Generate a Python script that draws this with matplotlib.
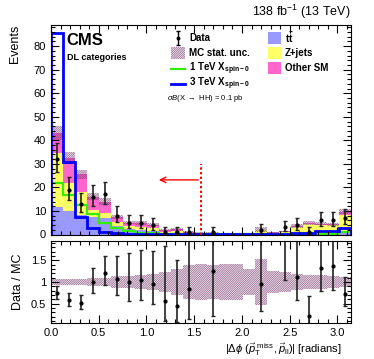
import numpy as np
import matplotlib
matplotlib.use('Agg')
import matplotlib.pyplot as plt
from matplotlib.patches import Rectangle
from matplotlib.lines import Line2D
from matplotlib.ticker import MultipleLocator

plt.rcParams.update({'font.family': ['Liberation Sans', 'DejaVu Sans'],
                     'mathtext.fontset': 'custom',
                     'mathtext.rm': 'Liberation Sans',
                     'mathtext.it': 'Liberation Sans:italic',
                     'mathtext.bf': 'Liberation Sans:bold',
                     'hatch.linewidth': 0.4})

#%%
# 25 bins in |dphi| from 0 to pi
n_bins = 25
edges = np.linspace(0, np.pi, n_bins + 1)
centers = 0.5 * (edges[1:] + edges[:-1])

# backgrounds (stacked: ttbar, Z+jets, other SM)
ttbar = [11.5, 10.0, 8.3, 7.6, 6.9, 3.6, 2.5, 2.0, 1.6, 0.6, 0.8, 0.4, 0.3,
         0.3, 0.2, 0.2, 0.2, 0.3, 0.2, 0.2, 0.3, 0.3, 0.3, 0.3, 0.8]
zjets = [23.3, 12.0, 9.9, 2.8, 2.4, 1.9, 1.0, 1.2, 1.3, 0.6, 0.8, 0.4, 0.3,
         0.3, 0.2, 0.2, 0.2, 1.5, 0.6, 0.9, 2.8, 4.0, 3.7, 3.6, 7.6]
other = [8.2, 10.5, 7.3, 5.6, 4.7, 2.0, 1.5, 1.6, 1.3, 0.6, 0.6, 0.4, 0.2,
         0.2, 0.1, 0.1, 0.1, 0.3, 0.2, 0.2, 0.5, 0.5, 0.5, 0.5, 1.3]
# relative MC stat. uncertainty
mc_unc = [0.07, 0.075, 0.08, 0.09, 0.10, 0.13, 0.14, 0.16, 0.19, 0.23, 0.29,
          0.38, 0.42, 0.40, 0.41, 0.42, 0.30, 0.54, 0.25, 0.22, 0.19, 0.17,
          0.15, 0.14, 0.12]

# signals
sig_1tev = [22.0, 16.8, 12.5, 8.7, 5.0, 2.6, 1.6, 0.8, 0.5, 0.3, 0.2, 0.1, 0.1,
            0.05, 0.05, 0.05, 0.05, 0.05, 0.05, 0.05, 0.1, 0.2, 0.3, 0.4, 1.2]
sig_3tev = [85.5, 30.9, 7.6, 2.6, 1.0, 0.6, 0.4, 0.3, 0.2, 0.2, 0.1, 0.1, 0.1,
            0.1, 0.1, 0.1, 0.1, 0.2, 0.2, 0.3, 0.5, 0.8, 1.6, 1.6, 2.6]

# data with Poisson errors
data = [32, 19, 13, 16, 17, 8, 5, 5, 4, 1, 1, 1, 0, 1, 0, 0, 0, 2, 0, 3, 4, 1, 6, 6, 7]
data_lo = [5.62, 4.33, 3.58, 3.97, 4.10, 2.77, 2.16, 2.16, 1.91, 0.83, 0.83, 0.83, 0,
           0.83, 0, 0, 0, 1.29, 0, 1.63, 1.91, 0.83, 2.38, 2.38, 2.58]
data_hi = [6.71, 5.43, 4.71, 5.10, 5.22, 3.95, 3.38, 3.38, 3.16, 2.30, 2.30, 2.30, 1.84,
           2.30, 1.84, 1.84, 1.84, 2.64, 1.84, 2.92, 3.16, 2.30, 3.58, 3.58, 3.77]

#%%
ttbar = np.array(ttbar)
zjets = np.array(zjets)
other = np.array(other)
mc_unc = np.array(mc_unc)
data = np.array(data, dtype=float)
data_lo = np.array(data_lo)
data_hi = np.array(data_hi)

c1 = ttbar
c2 = ttbar + zjets
mc = c2 + other

hatch_col = '#7a3a70'
hatch = '/' * 18

fig = plt.figure(figsize=(3.74, 3.59), dpi=100)
ax = fig.add_axes([51/374, 1-234.5/359, 300/374, 209.5/359])
rax = fig.add_axes([51/374, 1-323.3/359, 300/374, 82.6/359])

ax.stairs(c1, edges, baseline=0, fill=True, color='#9999ff', lw=0)
ax.stairs(c2, edges, baseline=c1, fill=True, color='#ffff66', lw=0)
ax.stairs(mc, edges, baseline=c2, fill=True, color='#ff66cc', lw=0)
ax.stairs(mc * (1 + mc_unc), edges, baseline=mc * (1 - mc_unc), fill=True,
          facecolor='none', edgecolor=hatch_col, hatch=hatch, lw=0)

ax.stairs(sig_1tev, edges, color='#33ee00', lw=1.6)
ax.stairs(sig_3tev, edges, color='#0000ff', lw=2.0)

m = data > 0
ax.errorbar(centers[m], data[m], yerr=[data_lo[m], data_hi[m]], fmt='o', ms=2,
            color='black', ecolor='#222222', elinewidth=1.2, capsize=1.3, capthick=1)

# cut line
ax.vlines(np.pi / 2, 0, 30, colors='red', linestyles=(0, (1.2, 1.2)), lw=1.4)
ax.annotate('', xy=(1.10, 23.2), xytext=(np.pi / 2, 23.2),
            arrowprops=dict(arrowstyle='->', color='red', lw=1.0))

ax.set_xlim(0, np.pi)
ax.set_ylim(0, 89)

# ratio panel
rax.stairs(1 + mc_unc, edges, baseline=1 - mc_unc, fill=True,
           facecolor='none', edgecolor=hatch_col, hatch=hatch, lw=0)
ratio = data / mc
rax.errorbar(centers[m], ratio[m], yerr=[data_lo[m] / mc[m], data_hi[m] / mc[m]],
             fmt='o', ms=2, color='black', ecolor='#222222', elinewidth=1.2,
             capsize=1.3, capthick=1)
rax.set_xlim(0, np.pi)
rax.set_ylim(0.05, 1.95)

for a in (ax, rax):
    a.tick_params(which='both', direction='in', top=True, right=True, labelsize=8, width=0.8)
    a.tick_params(which='major', length=6)
    a.tick_params(which='minor', length=3)
    a.xaxis.set_major_locator(MultipleLocator(0.5))
    a.xaxis.set_minor_locator(MultipleLocator(0.1))
    for s in a.spines.values():
        s.set_linewidth(0.8)
ax.yaxis.set_major_locator(MultipleLocator(10))
ax.yaxis.set_minor_locator(MultipleLocator(2))
ax.tick_params(labelbottom=False)
rax.yaxis.set_major_locator(MultipleLocator(0.5))
rax.yaxis.set_minor_locator(MultipleLocator(0.1))
rax.set_yticks([0.5, 1, 1.5])
rax.set_yticklabels(['0.5', '1', '1.5'])

ax.set_ylabel('Events', fontsize=9, loc='top', labelpad=9)
rax.set_ylabel('Data / MC', fontsize=9, labelpad=5)
fig.text(342/374, 1-350/359,
         r'$|\Delta\phi\ (\vec{p}_{\mathrm{T}}^{\ \mathrm{miss}},\vec{p}_{\mathrm{ll}})|$ [radians]',
         ha='right', va='center', fontsize=8)
ax.text(1.0, 1.02, r'138 fb$^{-1}$ (13 TeV)', transform=ax.transAxes,
        ha='right', va='bottom', fontsize=9)
ax.text(0.05, 0.928, 'CMS', transform=ax.transAxes, fontsize=12, fontweight='bold',
        va='center')
ax.text(0.053, 0.847, 'DL categories', transform=ax.transAxes, fontsize=6.5,
        fontweight='bold', va='center')

# legend, built by hand
tr = ax.transAxes
fs = 7
hw, hh = 0.045, 0.055
rows = [0.938, 0.866, 0.790, 0.718]
x1 = 0.40
# data
ax.errorbar([x1 + hw / 2], [rows[0]], yerr=[[0.035], [0.035]], fmt='o', ms=1.8,
            color='black', elinewidth=1.0, capsize=1.2, transform=tr, clip_on=False)
ax.text(x1 + 0.06, rows[0], 'Data', transform=tr, fontsize=fs, fontweight='bold', va='center')
ax.add_patch(Rectangle((x1, rows[1] - hh / 2), hw, hh, transform=tr, facecolor='none',
                       edgecolor=hatch_col, hatch=hatch, lw=0))
ax.text(x1 + 0.06, rows[1], 'MC stat. unc.', transform=tr, fontsize=fs, fontweight='bold', va='center')
ax.add_line(Line2D([x1, x1 + hw], [rows[2]] * 2, transform=tr, color='#33ee00', lw=1.6))
ax.text(x1 + 0.06, rows[2], r'1 TeV X$_{\mathbf{spin-0}}$', transform=tr, fontsize=fs,
        fontweight='bold', va='center')
ax.add_line(Line2D([x1, x1 + hw], [rows[3]] * 2, transform=tr, color='#0000ff', lw=2.0))
ax.text(x1 + 0.06, rows[3], r'3 TeV X$_{\mathbf{spin-0}}$', transform=tr, fontsize=fs,
        fontweight='bold', va='center')

x2 = 0.723
for y, col, lab in zip([0.938, 0.866, 0.795], ['#9999ff', '#ffff66', '#ff66cc'],
                       [r'$\mathbf{t\bar{t}}$', 'Z+jets', 'Other SM']):
    ax.add_patch(Rectangle((x2, y - hh / 2), hw, hh, transform=tr, facecolor=col, lw=0))
    ax.text(x2 + 0.057, y, lab, transform=tr, fontsize=fs, fontweight='bold', va='center')

ax.text(0.387, 0.647, r'$\sigma B$(X $\rightarrow$ HH) = 0.1 pb', transform=tr,
        fontsize=5.5, va='center')

fig.savefig('out.png', dpi=100)
